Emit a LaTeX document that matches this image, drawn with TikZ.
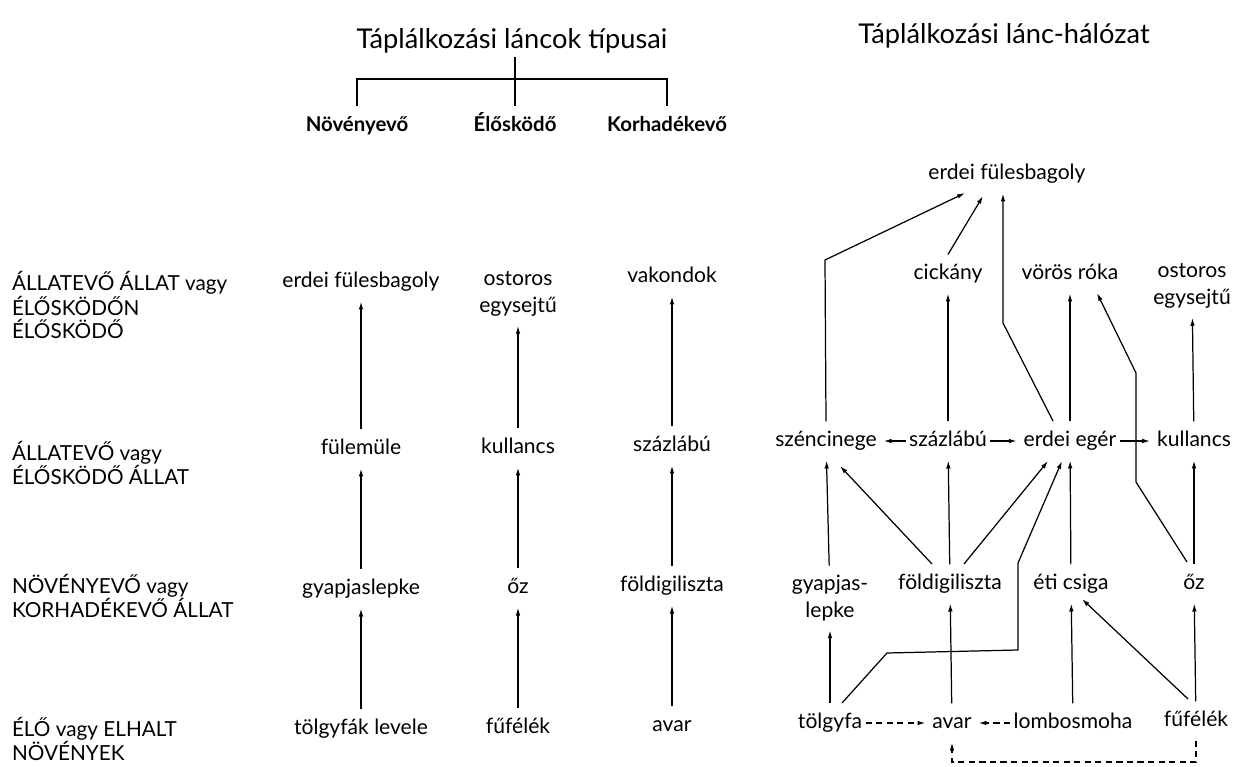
\documentclass[tikz,border=0pt]{standalone}
\usepackage{fontspec}
\setmainfont{Lato}
\usetikzlibrary{arrows.meta}

\begin{document}
\begin{tikzpicture}[%
      x=0.02cm, y=-0.02cm,
      every node/.style={font=\fontsize{12}{15}\selectfont, inner sep=2pt, outer sep=3.5pt},
      lbl/.style={text height=8.6pt, text depth=2.7pt},
      two/.style={align=center},
      side/.style={anchor=west, align=left, inner sep=0pt, outer sep=0pt, font=\fontsize{11.8}{12.8}\selectfont},
      head/.style={outer sep=0pt, font=\fontsize{15.5}{17}\selectfont},
      kind/.style={text height=8.6pt, text depth=2.7pt, font=\fontsize{11.6}{13}\selectfont\bfseries},
      line/.style={line width=0.7pt},
      arr/.style={line, -{Latex[length=4.5pt,width=2.6pt]}},
      darr/.style={arr, dash pattern=on 3.5pt off 2.5pt},
      near/.style={shorten <=-3.5pt, shorten >=-1.5pt},
      ]
      \useasboundingbox (0,0) rectangle (1241,767);

      \node[head] (titleL) at (512,41) {Táplálkozási láncok típusai};
      \node[head] (titleR) at (1004,36) {Táplálkozási lánc-hálózat};

      \node[kind] (novenyevo) at (357,126) {Növényevő};
      \node[kind] (eloskodo) at (515,126) {Élősködő};
      \node[kind] (korhadek) at (667,126) {Korhadékevő};
      \coordinate (fork) at (515,79);
      \draw[line] (titleL.south -| eloskodo.north) -- (eloskodo.north);
      \draw[line] (novenyevo.north) -- (novenyevo.north |- fork) -- (korhadek.north |- fork) -- (korhadek.north);

      \node[side] (lvlA) at (12,305) {ÁLLATEVŐ ÁLLAT vagy\\ÉLŐSKÖDŐN\\ÉLŐSKÖDŐ};
      \node[side] (lvlB) at (12,463) {ÁLLATEVŐ vagy\\ÉLŐSKÖDŐ ÁLLAT};
      \node[side] (lvlC) at (12,596) {NÖVÉNYEVŐ vagy\\KORHADÉKEVŐ ÁLLAT};
      \node[side] (lvlD) at (12,739) {ÉLŐ vagy ELHALT\\NÖVÉNYEK};

      \node[lbl] (c1bagoly) at (361,282) {erdei fülesbagoly};
      \node[lbl] (c1fulemule) at (361,449) {fülemüle};
      \node[lbl] (c1gyapjas) at (361,589) {gyapjaslepke};
      \node[lbl] (c1tolgy) at (361,729) {tölgyfák levele};
      \node[two] (c2ostoros) at (518,294) {ostoros\\egysejtű};
      \node[lbl] (c2kullancs) at (518,448) {kullancs};
      \node[lbl] (c2oz) at (518,588) {őz};
      \node[lbl] (c2fufelek) at (518,728) {fűfélék};
      \node[lbl] (c3vakond) at (672,277) {vakondok};
      \node[lbl] (c3szazlabu) at (672,446) {százlábú};
      \node[lbl] (c3foldi) at (672,586) {földigiliszta};
      \node[lbl] (c3avar) at (672,726) {avar};

      \draw[arr] (c1fulemule) -- (c1bagoly);
      \draw[arr] (c1gyapjas) -- (c1fulemule);
      \draw[arr] (c1tolgy) -- (c1gyapjas);
      \draw[arr] (c2kullancs) -- (c2ostoros);
      \draw[arr] (c2oz) -- (c2kullancs);
      \draw[arr] (c2fufelek) -- (c2oz);
      \draw[arr] (c3szazlabu) -- (c3vakond);
      \draw[arr] (c3foldi) -- (c3szazlabu);
      \draw[arr] (c3avar) -- (c3foldi);

      \node[lbl] (nbagoly) at (1007,174) {erdei fülesbagoly};
      \node[lbl] (ncickany) at (948,274) {cickány};
      \node[lbl] (nroka) at (1070,274) {vörös róka};
      \node[two] (nostoros) at (1192,286) {ostoros\\egysejtű};
      \node[lbl] (ncinege) at (826,441) {széncinege};
      \node[lbl] (nszazlabu) at (948,441) {százlábú};
      \node[lbl] (neger) at (1070,441) {erdei egér};
      \node[lbl] (nkullancs) at (1194,441) {kullancs};
      \node[two] (ngyapjas) at (830,598) {gyapjas-\\lepke};
      \node[lbl] (nfoldi) at (950,584) {földigiliszta};
      \node[lbl] (ncsiga) at (1071,584) {éti csiga};
      \node[lbl] (noz) at (1194,584) {őz};
      \node[lbl] (ntolgy) at (830,723) {tölgyfa};
      \node[lbl] (navar) at (952,723) {avar};
      \node[lbl] (nmoha) at (1073,723) {lombosmoha};
      \node[lbl] (nfufelek) at (1196,721) {fűfélék};

      \coordinate (cb1) at (825,260);
      \coordinate (eb1) at (1003,323);
      \coordinate (zb1) at (1136,482);
      \coordinate (zb2) at (1136,373);
      \coordinate (tb1) at (887,653);
      \coordinate (tb2) at (1018,650);
      \coordinate (tb3) at (1018,563);
      \coordinate (dbot) at (1196,762);

      \draw[arr] (ntolgy) -- (ngyapjas);
      \draw[arr] (ngyapjas) -- (ncinege);
      \draw[arr] (navar) -- (nfoldi);
      \draw[arr] (nfoldi) -- (nszazlabu);
      \draw[arr] (nszazlabu) -- (ncickany);
      \draw[arr] (nmoha) -- (ncsiga);
      \draw[arr] (ncsiga) -- (neger);
      \draw[arr] (neger) -- (nroka);
      \draw[arr] (nfufelek) -- (noz);
      \draw[arr] (noz) -- (nkullancs);
      \draw[arr] (nkullancs) -- (nostoros);
      \draw[arr, near] (nszazlabu) -- (ncinege);
      \draw[arr, near] (nszazlabu) -- (neger);
      \draw[arr, near] (neger) -- (nkullancs);
      \draw[arr] ([shift={(-18,-20)}]nfoldi.center) -- ([shift={(14,25)}]ncinege.center);
      \draw[arr] ([shift={(14,-20)}]nfoldi.center) -- ([shift={(-22,20)}]neger.center);
      \draw[arr] ([shift={(12,-20)}]ntolgy.center) -- (tb1) -- (tb2) -- (tb3) -- ([shift={(-8,20)}]neger.center);
      \draw[arr] ([shift={(-8,-22)}]nfufelek.center) -- ([shift={(11,15)}]ncsiga.center);
      \draw[arr] ([shift={(-7,-22)}]noz.center) -- (zb1) -- (zb2) -- ([shift={(27,19)}]nroka.center);
      \draw[arr] ([shift={(-17,-20)}]neger.center) -- (eb1) -- (eb1 |- nbagoly.south);
      \draw[arr] (ncickany.north) -- ([shift={(-24,22)}]nbagoly.center);
      \draw[arr] (ncinege.north) -- (cb1) -- ([shift={(-42,19)}]nbagoly.center);

      \draw[darr, near] (ntolgy) -- (navar);
      \draw[darr, near] (nmoha) -- (navar);
      \draw[darr] (nfufelek.south) -- (nfufelek.south |- dbot) -| (navar.south);
\end{tikzpicture}
\end{document}
